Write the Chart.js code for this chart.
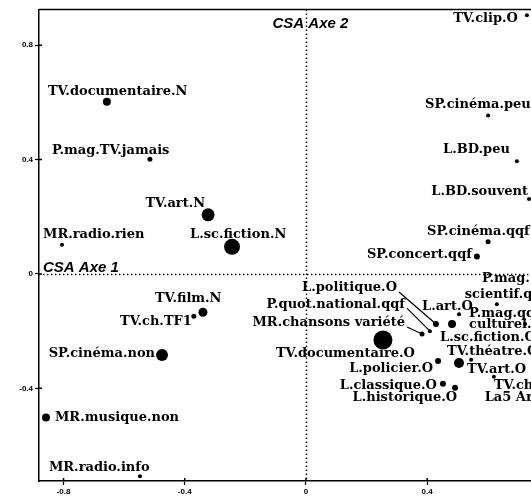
<!DOCTYPE html>
<html><head><meta charset="utf-8">
<script src="https://cdn.jsdelivr.net/npm/chart.js@4"></script>
<style>
html,body{margin:0;padding:0;background:#fff;overflow:hidden;width:531px;height:498px}
#wrap{position:absolute;left:0;top:0;width:620px;height:498px}
</style>
</head><body><div id="wrap"><canvas id="c" width="620" height="498"></canvas></div>
<script>
// ---- data ----
const categories = [
  "TV.clip.O", "TV.documentaire.N", "P.mag.TV.jamais", "TV.art.N", "MR.radio.rien",
  "L.sc.fiction.N", "SP.cinéma.peu", "L.BD.peu", "L.BD.souvent", "SP.cinéma.qqf",
  "SP.concert.qqf", "TV.film.N", "TV.ch.TF1", "SP.cinéma.non", "MR.musique.non",
  "MR.radio.info", "TV.documentaire.O", "L.politique.O", "P.quot.national.qqf", "MR.chansons variété",
  "L.art.O", "L.sc.fiction.O", "P.mag.\nscientif.qqf", "P.mag.qqf\nculturel.", "TV.théatre.O",
  "TV.art.O", "L.policier.O", "TV.ch.\nLa5 Arte", "L.classique.O", "L.historique.O"
];
const axis1 = [
  0.729, -0.657, -0.515, -0.323, -0.805,
  -0.244, 0.601, 0.696, 0.736, 0.601,
  0.564, -0.340, -0.370, -0.475, -0.858,
  -0.548, 0.254, 0.429, 0.409, 0.383,
  0.505, 0.482, 0.630, 0.723, 0.545,
  0.505, 0.436, 0.620, 0.452, 0.492
];
const axis2 = [
  0.905, 0.602, 0.401, 0.207, 0.102,
  0.095, 0.554, 0.394, 0.262, 0.113,
  0.061, -0.134, -0.148, -0.283, -0.502,
  -0.707, -0.231, -0.175, -0.200, -0.210,
  -0.141, -0.175, -0.106, -0.175, -0.300,
  -0.311, -0.304, -0.359, -0.384, -0.398
];
const xTickValues = [-0.8, -0.4, 0, 0.4, 0.8];
const xTickLabels = ["-0.8", "-0.4", "0", "0.4", "0.8"];
const yTickValues = [-0.4, 0, 0.4, 0.8];
const yTickLabels = ["-0.4", "0", "0.4", "0.8"];
const axisTitles = ["CSA Axe 1", "CSA Axe 2"];

// ---- styles (marker size, label placement) ----
const pointRadii = [
  2, 4, 2.5, 6.5, 2,
  8, 2, 2, 2, 2.5,
  3, 4.5, 2.5, 6, 4,
  2, 9.5, 3, 2, 2.5,
  2, 4, 2, 2, 2,
  5, 3, 2, 3, 3
];
// [dx, dy, align, lineHeight, leader]
const labelPlacement = [
  [-9, 3, 'right'], [-59, -10, 'left'], [-98, -9, 'left'], [-3, -11, 'right'], [-19, -10, 'left'],
  [-42, -12, 'left'], [-63, -11, 'left'], [-7, -12, 'right'], [-1, -7, 'right'], [-61, -10, 'left'],
  [-5, -2, 'right'], [-48, -14, 'left'], [-2, 5, 'right'], [-7, -1, 'right'], [9, 0, 'left'],
  [-91, -9, 'left'], [-107, 14, 'left'], [-39, -36, 'right', 13, true], [-25, -27, 'right', 13, true], [-17, -11, 'right', 13, true],
  [-37, -8, 'left'], [-12, 14, 'left'], [9, -26, 'center', 16], [-56, -10, 'left', 11], [-24, -8, 'left'],
  [8, 7, 'left'], [-5, 8, 'right'], [22, 9, 'center', 12], [-6, 2, 'right'], [2, 10, 'right']
];

const frame = {
  id: 'frame',
  beforeDatasetsDraw(chart) {
    const {ctx, chartArea: a, scales: {x, y}} = chart;
    const x0 = Math.round(x.getPixelForValue(0)) + 0.5;
    const y0 = Math.round(y.getPixelForValue(0)) + 0.5;
    ctx.save();
    ctx.strokeStyle = '#000';
    ctx.lineWidth = 1.4;
    ctx.setLineDash([1.4, 2.6]);
    ctx.beginPath();
    ctx.moveTo(x0, a.top); ctx.lineTo(x0, a.bottom);
    ctx.moveTo(a.left, y0); ctx.lineTo(a.right, y0);
    ctx.stroke();
    ctx.setLineDash([]);
    ctx.lineWidth = 1.5;
    ctx.beginPath();
    ctx.moveTo(a.left, a.top); ctx.lineTo(a.right, a.top);
    // inward parts of tick marks
    x.ticks.forEach(t => { const p = x.getPixelForValue(t.value); ctx.moveTo(p, a.bottom); ctx.lineTo(p, a.bottom - 3); });
    y.ticks.forEach(t => { const p = y.getPixelForValue(t.value); ctx.moveTo(a.left, p); ctx.lineTo(a.left + 3, p); });
    ctx.stroke();
    ctx.fillStyle = '#000';
    ctx.font = 'italic bold 15px "Liberation Sans", Arial, sans-serif';
    ctx.textAlign = 'left';
    ctx.textBaseline = 'alphabetic';
    ctx.fillText(axisTitles[1], x0 - 34, a.top + 18);
    ctx.fillText(axisTitles[0], a.left + 4, y0 - 3);
    ctx.restore();
  }
};

const pointLabels = {
  id: 'pointLabels',
  afterDatasetsDraw(chart) {
    const {ctx} = chart;
    const meta = chart.getDatasetMeta(0);
    ctx.save();
    ctx.fillStyle = '#000';
    ctx.strokeStyle = '#000';
    ctx.lineWidth = 1.2;
    ctx.font = 'bold 13px "DejaVu Serif", serif';
    ctx.textBaseline = 'middle';
    meta.data.forEach((pt, i) => {
      const [dx, dy, align, lh, leader] = labelPlacement[i];
      const lines = categories[i].split('\n');
      ctx.textAlign = align;
      lines.forEach((t, k) => ctx.fillText(t, pt.x + dx, pt.y + dy + k * (lh || 13)));
      if (leader) {
        ctx.beginPath();
        ctx.moveTo(pt.x + dx + 2, pt.y + dy + 4);
        ctx.lineTo(pt.x, pt.y);
        ctx.stroke();
      }
    });
    ctx.restore();
  }
};

const tickFont = {family: '"Liberation Sans", Arial, sans-serif', size: 8, weight: 'bold'};

new Chart(document.getElementById('c').getContext('2d'), {
  type: 'scatter',
  data: {
    datasets: [{
      data: axis1.map((v, i) => ({x: v, y: axis2[i]})),
      pointRadius: pointRadii,
      pointHoverRadius: pointRadii,
      backgroundColor: '#000',
      borderWidth: 0
    }]
  },
  options: {
    responsive: false,
    animation: false,
    devicePixelRatio: 1,
    events: [],
    layout: {padding: {left: 0, top: 6, right: 11, bottom: 0}},
    plugins: {legend: {display: false}, tooltip: {enabled: false}},
    scales: {
      x: {
        type: 'linear', min: -0.881, max: 1.0,
        afterFit(s) { s.height = 17; },
        afterBuildTicks(s) { s.ticks = xTickValues.map(v => ({value: v})); },
        ticks: {callback: (v, i) => xTickLabels[i], font: tickFont, color: '#000', padding: 2, maxRotation: 0, autoSkip: false},
        grid: {drawOnChartArea: false, drawTicks: true, tickLength: 4, tickColor: '#000', tickWidth: 1.2},
        border: {display: true, color: '#000', width: 1.5}
      },
      y: {
        type: 'linear', min: -0.724, max: 0.925,
        afterFit(s) { s.width = 39; },
        afterBuildTicks(s) { s.ticks = yTickValues.map(v => ({value: v})); },
        ticks: {callback: (v, i) => yTickLabels[i], font: tickFont, color: '#000', padding: 2, autoSkip: false},
        grid: {drawOnChartArea: false, drawTicks: true, tickLength: 4, tickColor: '#000', tickWidth: 1.2},
        border: {display: true, color: '#000', width: 1.5}
      }
    }
  },
  plugins: [frame, pointLabels]
});
</script>
</body></html>
